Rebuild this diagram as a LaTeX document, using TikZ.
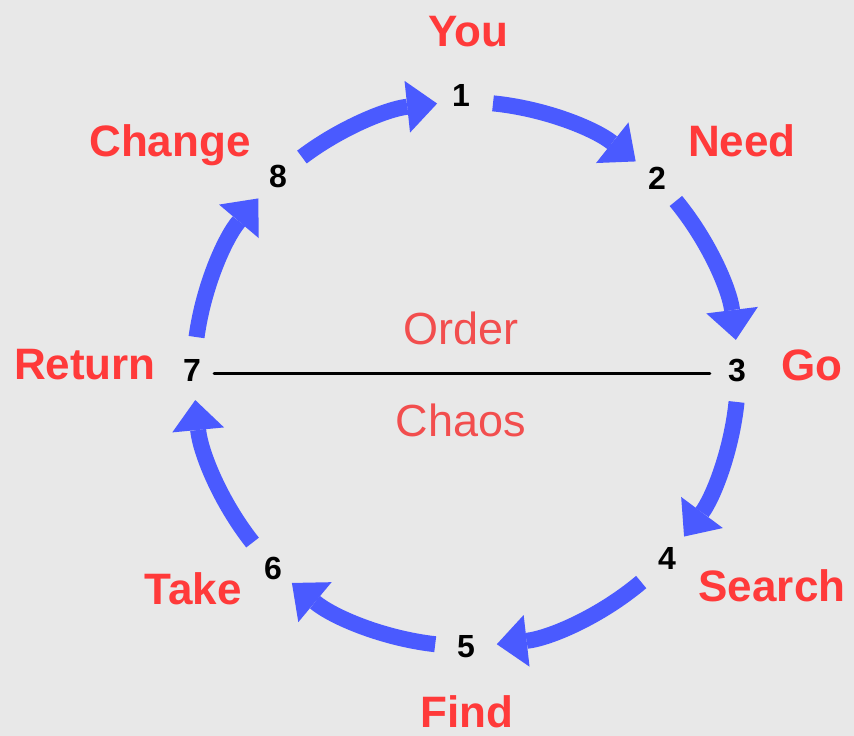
\documentclass[tikz,border=0pt]{standalone}
\usepackage{fontspec}
\setmainfont{Liberation Sans}
\usetikzlibrary{arrows.meta,calc}
\definecolor{bg}{HTML}{E8E8E8}
\definecolor{cblue}{RGB}{74,90,255}
\definecolor{cred}{RGB}{255,58,58}
\definecolor{lred}{RGB}{242,78,78}
\begin{document}
\begin{tikzpicture}[x=1pt,y=1pt,
  num/.style={font=\bfseries\fontsize{32}{34}\selectfont, inner sep=0pt, anchor=base},
  lab/.style={font=\bfseries\fontsize{44}{48}\selectfont, text=cred, inner sep=0pt, anchor=base},
  side/.style={font=\fontsize{45}{50}\selectfont, text=lred, inner sep=0pt, anchor=base},
  cyc/.style={draw=cblue, line width=16pt, -{Triangle[width=52pt,length=30pt,line width=0pt]}},
  divider/.style={draw=black, line width=3pt, line cap=round}]
\useasboundingbox (0,0) rectangle (854,736);
\fill[bg] (0,0) rectangle (854,736);
\coordinate (O) at (466,362);
% numbers
\node[num] (n1) at (461,629) {1};
\node[num] (n2) at (657,546) {2};
\node[num] (n3) at (737,354) {3};
\node[num] (n4) at (667,166) {4};
\node[num] (n5) at (466,78) {5};
\node[num] (n6) at (273,156) {6};
\node[num] (n7) at (192,354) {7};
\node[num] (n8) at (278,548) {8};
% labels
\node[lab] (lyou) at (468,689) {You};
\node[lab] (lneed) at (742,579) {Need};
\node[lab] (lgo) at (812,355) {Go};
\node[lab] (lsearch) at (772,134) {Search};
\node[lab] (lfind) at (467,8) {Find};
\node[lab] (ltake) at (193,131) {Take};
\node[lab] (lreturn) at (85,356) {Return};
\node[lab] (lchange) at (170,579) {Change};
% order / chaos
\node[side] (order) at (461,391) {Order};
\node[side] (chaos) at (461,299) {Chaos};
\draw[divider] ([xshift=13pt,yshift=8pt]n7.base east) -- ([xshift=-18pt,yshift=8pt]n3.base west);
% cycle arrows
\draw[cyc] (O) ++(84.3:272pt) arc[start angle=84.3, end angle=51.4, radius=272pt];
\draw[cyc] (O) ++(39.5:272pt) arc[start angle=39.5, end angle=7.2, radius=272pt];
\draw[cyc] (O) ++(-5.9:272pt) arc[start angle=-5.9, end angle=-36.7, radius=272pt];
\draw[cyc] (O) ++(-49.9:272pt) arc[start angle=-49.9, end angle=-83.5, radius=272pt];
\draw[cyc] (O) ++(-96.5:272pt) arc[start angle=-96.5, end angle=-129.8, radius=272pt];
\draw[cyc] (O) ++(-141.7:272pt) arc[start angle=-141.7, end angle=-174.5, radius=272pt];
\draw[cyc] (O) ++(172.2:272pt) arc[start angle=172.2, end angle=139.8, radius=272pt];
\draw[cyc] (O) ++(127.1:272pt) arc[start angle=127.1, end angle=96.1, radius=272pt];
\end{tikzpicture}
\end{document}
